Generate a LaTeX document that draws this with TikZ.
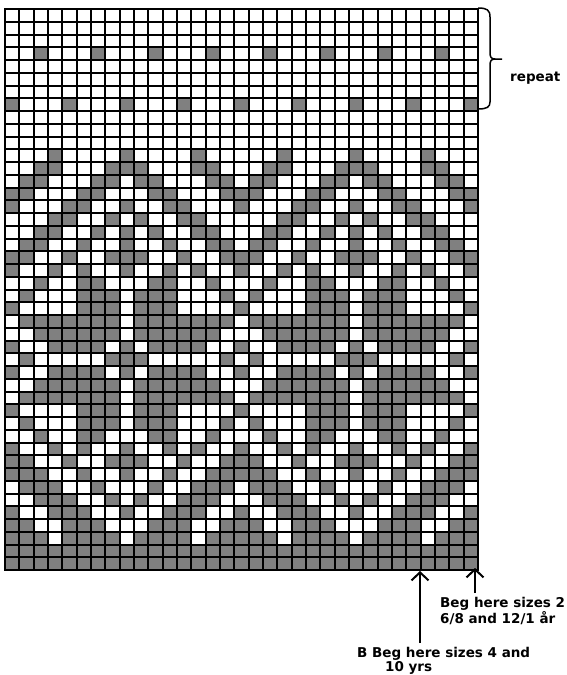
\documentclass[tikz,border=0pt]{standalone}
\usepackage{fontspec}
\newfontfamily\labelfont{DejaVu Sans}
\usetikzlibrary{arrows.meta}
\definecolor{stitchgrey}{RGB}{128,128,128}

\begin{document}
\begin{tikzpicture}[x=1pt, y=-1pt,
    stitch/.style={fill=stitchgrey},
    gridline/.style={line width=2pt, black},
    lbl/.style={font=\labelfont\bfseries\fontsize{13.5}{12.5}\selectfont, inner sep=0pt, align=left},
    begarrow/.style={line width=2pt, -{Straight Barb[length=8pt, width=17pt, line width=2pt]}}]
    \useasboundingbox (0,0) rectangle (567,675);
    \def\cw{14.333}
    \def\ch{12.75}

    % grey stitches (16 stitch repeat, row/columns)
    \foreach \r/\cols in {4/{3,7,11,15}, 8/{1,5,9,13}, 12/{4,9,14},
        13/{3,4,8,9,10,14,15}, 14/{2,3,7,8,10,11,15,16}, 15/{1,2,6,7,11,12,16},
        16/{1,5,6,9,12,13}, 17/{4,5,8,10,13,14}, 18/{3,4,7,9,11,14,15},
        19/{2,3,6,9,12,15,16}, 20/{1,2,5,8,9,10,13,16}, 21/{1,4,6,9,12,14},
        22/{3,6,7,11,12,15}, 23/{2,6,7,8,10,11,12,16}, 24/{1,6,7,8,10,11,12},
        25/{2,3,4,5,6,7,8,10,11,12,13,14,15,16}, 26/{3,4,5,6,7,8,10,11,12,13,14,15},
        27/{1,4,5,6,7,9,11,12,13,14}, 28/{2,8,9,10,16}, 29/{1,4,5,6,7,9,11,12,13,14},
        30/{3,4,5,6,7,8,10,11,12,13,14,15}, 31/{2,3,4,5,6,7,8,10,11,12,13,14,15,16},
        32/{1,6,7,8,10,11,12}, 33/{2,6,7,8,10,11,12,16}, 34/{3,6,7,11,12,15},
        35/{1,4,6,9,12,14}, 36/{1,2,5,8,9,10,13,16}, 37/{1,2,3,6,9,12,15,16},
        38/{2,3,4,7,11,14,15,16}, 39/{3,4,5,8,10,13,14,15}, 40/{1,4,5,6,9,12,13,14},
        41/{1,2,5,6,7,11,12,13,16}, 42/{1,2,3,5,6,7,8,10,11,12,13,15,16},
        43/{1,...,16}, 44/{1,...,16}} {
        \foreach \c in \cols {
            \foreach \k in {0,16,32} {
                \pgfmathtruncatemacro\j{\c+\k}
                \ifnum\j<34
                    \fill[stitch] ({5+(\j-1)*\cw},{9+(\r-1)*\ch}) rectangle ++(\cw,\ch);
                \fi
            }
        }
    }

    % grid
    \foreach \c in {0,...,33}
        \draw[gridline] ({5+\c*\cw},9) -- ({5+\c*\cw},570);
    \foreach \r in {0,...,44}
        \draw[gridline] (5,{9+\r*\ch}) -- (478,{9+\r*\ch});
    \draw[gridline] (5,9) rectangle (478,570);

    % repeat brace
    \draw[line width=1.5pt] (478,8) .. controls (487,8) and (490,10) .. (490,17) -- (490,52)
        .. controls (490,57) and (491,59) .. (495,59) -- (502,59);
    \draw[line width=1.5pt] (495,59) .. controls (491,59) and (490,61) .. (490,66) -- (490,102)
        .. controls (490,107) and (487,109) .. (478,109);
    \node[lbl, anchor=base west] (rpt) at (510,81) {repeat};

    % where to begin
    \coordinate (startA) at (420,571);
    \coordinate (startB) at (475,568);
    \node[lbl, anchor=north west] (begB) at (440,597) {Beg here sizes 2\\6/8 and 12/1 år};
    \node[lbl, anchor=north west] (begA) at (357,647) {B Beg here sizes 4 and\\\hspace*{28pt}10 yrs};
    \path (begA.north -| startA) coordinate (footA);
    \path (begB.north -| startB) coordinate (footB);
    \draw[begarrow] ([yshift=4pt]footA) -- (startA);
    \draw[begarrow] ([yshift=4pt]footB) -- (startB);
\end{tikzpicture}
\end{document}
